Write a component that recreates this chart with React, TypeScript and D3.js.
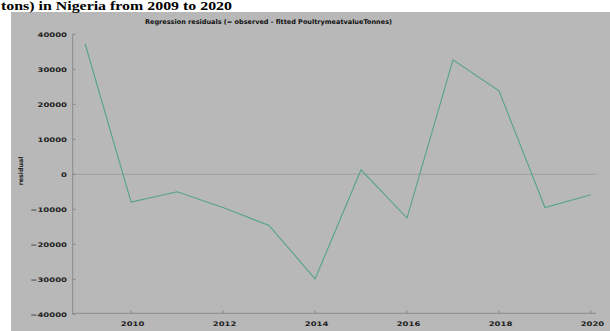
import React from "react";
import * as d3 from "d3";

const years = [2009, 2010, 2011, 2012, 2013, 2014, 2015, 2016, 2017, 2018, 2019, 2020];
const residuals = [37300, -7950, -5000, -9500, -14600, -29900, 1300, -12500, 32700, 23850, -9500, -5850];
const yTicks = [40000, 30000, 20000, 10000, 0, -10000, -20000, -30000, -40000];
const xTicks = [2010, 2012, 2014, 2016, 2018, 2020];
const headerText = "tons) in Nigeria from 2009 to 2020";
const chartTitle = "Regression residuals (= observed - fitted PoultrymeatvalueTonnes)";
const yLabel = "residual";

const W = 610;
const H = 331;

export default function App() {
  const x = d3.scaleLinear().domain([2008.73, 2020.11]).range([72.7, 596]);
  const y = d3.scaleLinear().domain([-40000, 40000]).range([314.3, 34.3]);
  const line = d3
    .line<number>()
    .x((_, i) => x(years[i]))
    .y((d) => y(d));
  const font = "DejaVu Sans, sans-serif";
  const sx = 1.35;
  return (
    <svg
      width={W}
      height={H}
      style={{ position: "absolute", left: 0, top: 0, display: "block" }}
    >
      <rect x={0} y={0} width={W} height={H} fill="#ffffff" />
      <rect x={11} y={12} width={W - 11} height={H - 12} fill="#b8b8b8" />
      <text
        x={1}
        y={9.5}
        fontFamily="Liberation Serif, Times New Roman, serif"
        fontWeight="bold"
        fontSize={12}
        fill="#000"
        textLength={231}
        lengthAdjust="spacingAndGlyphs"
      >
        {headerText}
      </text>
      <text
        x={145}
        y={24}
        fontFamily={font}
        fontWeight="bold"
        fontSize={6.5}
        fill="#111"
        textLength={247}
        lengthAdjust="spacingAndGlyphs"
      >
        {chartTitle}
      </text>
      {/* y axis */}
      <line x1={x.range()[0]} x2={x.range()[0]} y1={y(40000)} y2={y(-40000)} stroke="#8a8a8a" strokeWidth={1} />
      {yTicks.map((t) => (
        <g key={t}>
          <line x1={x.range()[0]} x2={x.range()[0] + 3} y1={y(t)} y2={y(t)} stroke="#8a8a8a" strokeWidth={1} />
          <g transform={`translate(67,${y(t) + 2.2}) scale(${sx},1)`}>
            <text x={0} y={0} textAnchor="end" fontFamily={font} fontWeight="bold" fontSize={6.3} fill="#222">
              {t < 0 ? "\u2212" + String(-t) : String(t)}
            </text>
          </g>
        </g>
      ))}
      {/* x axis */}
      <line x1={x.range()[0]} x2={x.range()[1]} y1={y(-40000) - 1} y2={y(-40000) - 1} stroke="#8a8a8a" strokeWidth={1} />
      {xTicks.map((t) => (
        <g key={t}>
          <line x1={x(t)} x2={x(t)} y1={y(-40000) - 1} y2={y(-40000) - 4} stroke="#8a8a8a" strokeWidth={1} />
          <g transform={`translate(${x(t) + 1.5},${326}) scale(${sx},1)`}>
            <text x={0} y={0} textAnchor="middle" fontFamily={font} fontWeight="bold" fontSize={6.3} fill="#222">
              {String(t)}
            </text>
          </g>
        </g>
      ))}
      {/* y label */}
      <g transform={`translate(23,171) rotate(-90)`}>
        <text x={0} y={0} textAnchor="middle" fontFamily={font} fontWeight="bold" fontSize={6.3} fill="#222">
          {yLabel}
        </text>
      </g>
      {/* zero line */}
      <line
        x1={x.range()[0]}
        x2={x.range()[1]}
        y1={y(0)}
        y2={y(0)}
        stroke="#777"
        strokeWidth={0.8}
        strokeDasharray="1,1"
      />
      <path d={line(residuals) || ""} fill="none" stroke="#55a38a" strokeWidth={1.1} />
    </svg>
  );
}
